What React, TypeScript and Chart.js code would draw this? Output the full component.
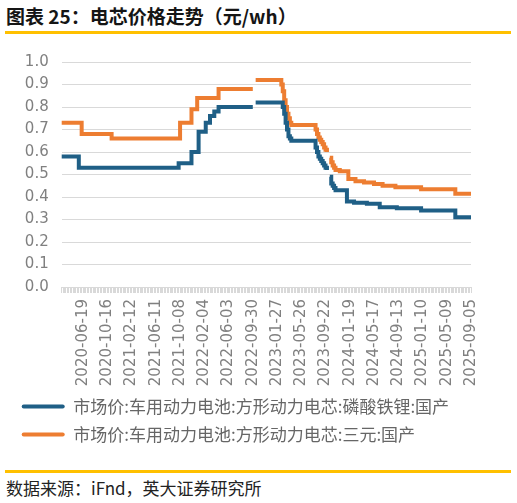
import React, { useEffect, useRef } from 'react';
import { Chart, registerables } from 'chart.js';

Chart.register(...registerables);

// ---- data ----
const START_DATE = '2020-03-06';
const WEEK_COUNT = 288;
const LABEL_FIRST = 15;
const LABEL_EVERY = 17;

function weeklyDates(start: string, n: number): string[] {
  const out: string[] = [];
  const base = new Date(start + 'T00:00:00Z').getTime();
  for (let i = 0; i < n; i++) {
    const d = new Date(base + i * 7 * 86400000);
    out.push(d.toISOString().slice(0, 10));
  }
  return out;
}
const categories = weeklyDates(START_DATE, WEEK_COUNT);

// [value, number of weeks]
const lfpRuns: [number | null, number][] = [
  [0.58, 12], [0.53, 70], [0.55, 9], [0.6, 5], [0.69, 5], [0.73, 3], [0.76, 3], [0.78, 3],
  [0.8, 25], [null, 1], [0.82, 19], [0.8, 1], [0.77, 1], [0.73, 1], [0.7, 1], [0.67, 1], [0.66, 1],
  [0.65, 17], [0.62, 1], [0.6, 1], [0.58, 1], [0.57, 1], [0.56, 1], [0.55, 1], [0.54, 1], [0.53, 1],
  [0.52, 1], [null, 1], [0.49, 1], [0.46, 1], [0.45, 1], [0.44, 1], [0.43, 8], [0.38, 5], [0.375, 9],
  [0.37, 9], [0.355, 12], [0.35, 17], [0.34, 24], [0.31, 12],
];
const ncmRuns: [number | null, number][] = [
  [0.73, 14], [0.68, 21], [0.66, 48], [0.73, 8], [0.79, 4], [0.84, 15], [0.88, 25], [null, 1],
  [0.92, 18], [0.9, 1], [0.87, 1], [0.83, 1], [0.8, 1], [0.77, 1], [0.75, 1], [0.73, 1], [0.72, 17],
  [0.7, 1], [0.68, 1], [0.665, 1], [0.655, 1], [0.645, 1], [0.635, 1], [0.62, 1], [0.61, 1], [0.6, 1],
  [null, 1], [0.575, 1], [0.555, 1], [0.54, 1], [0.53, 1], [0.52, 3], [0.515, 6], [0.48, 5], [0.47, 6],
  [0.465, 7], [0.458, 6], [0.45, 9], [0.443, 18], [0.435, 24], [0.415, 12],
];
const expand = (runs: [number | null, number][]) =>
  runs.flatMap(([v, c]) => Array(c).fill(v) as (number | null)[]);
const lfpValues = expand(lfpRuns);
const ncmValues = expand(ncmRuns);

const seriesNames = [
  '市场价:车用动力电池:方形动力电芯:磷酸铁锂:国产',
  '市场价:车用动力电池:方形动力电芯:三元:国产',
];
const Y_MIN = 0;
const Y_MAX = 1;
const Y_STEP = 0.1;

const BLUE = '#1f5f86';
const ORANGE = '#ed7d31';
const GOLD = '#ffc000';

export default function App() {
  const ref = useRef<HTMLCanvasElement | null>(null);

  useEffect(() => {
    if (!ref.current) return;
    const chart = new Chart(ref.current, {
      type: 'line',
      data: {
        labels: categories,
        datasets: [
          {
            label: seriesNames[0],
            data: lfpValues,
            borderColor: BLUE,
            backgroundColor: BLUE,
            borderWidth: 4,
            pointRadius: 0,
            stepped: true,
            spanGaps: false,
          },
          {
            label: seriesNames[1],
            data: ncmValues,
            borderColor: ORANGE,
            backgroundColor: ORANGE,
            borderWidth: 4,
            pointRadius: 0,
            stepped: true,
            spanGaps: false,
          },
        ],
      },
      options: {
        responsive: false,
        animation: false,
        layout: { padding: { left: 10.7, right: 46, top: 20, bottom: 0 } },
        plugins: {
          tooltip: { enabled: false },
          legend: {
            position: 'bottom',
            align: 'start',
            labels: {
              boxWidth: 43,
              boxHeight: 4,
              padding: 11,
              color: '#666666',
              font: { family: '"Noto Sans CJK SC", sans-serif', size: 17 },
              useBorderRadius: true,
              borderRadius: 2,
              generateLabels: (c: any) =>
                (Chart.defaults.plugins.legend.labels as any)
                  .generateLabels(c)
                  .map((l: any) => ({ ...l, lineWidth: 0 })),
            },
          },
        },
        scales: {
          x: {
            type: 'category',
            offset: false,
            grid: { drawOnChartArea: false, drawTicks: true, tickLength: 6, color: '#d9d9d9' },
            border: { display: true, color: '#d9d9d9' },
            ticks: {
              autoSkip: false,
              minRotation: 90,
              maxRotation: 90,
              padding: 6,
              color: '#808080',
              font: { family: '"DejaVu Sans", sans-serif', size: 15 },
              callback: (_v: any, i: number) =>
                i >= LABEL_FIRST && (i - LABEL_FIRST) % LABEL_EVERY === 0 ? categories[i] : '',
            },
            afterFit: (s: any) => {
              s.height = 100;
            },
          },
          y: {
            min: Y_MIN,
            max: Y_MAX,
            grid: { color: '#d9d9d9', drawTicks: false },
            border: { display: false },
            ticks: {
              stepSize: Y_STEP,
              padding: 13,
              color: '#808080',
              font: { family: '"DejaVu Sans", sans-serif', size: 15 },
              callback: (v: any) => Number(v).toFixed(1),
            },
            afterFit: (s: any) => {
              s.width = 51;
            },
          },
        },
      },
    } as any);
    return () => chart.destroy();
  }, []);

  return (
    <div
      style={{
        position: 'fixed',
        left: 0,
        top: 0,
        width: 517,
        height: 503,
        background: '#fff',
        overflow: 'hidden',
      }}
    >
      <div
        style={{
          position: 'absolute',
          left: 6,
          top: 4,
          fontFamily: '"Noto Sans CJK SC", sans-serif',
          fontWeight: 700,
          fontSize: 19,
          lineHeight: '24px',
          color: '#151515',
          whiteSpace: 'nowrap',
        }}
      >
        图表 25：电芯价格走势（元/wh）
      </div>
      <div style={{ position: 'absolute', left: 5, top: 31, width: 506, height: 3, background: GOLD }} />
      <canvas
        ref={ref}
        width={517}
        height={413}
        style={{ position: 'absolute', left: 0, top: 40, width: 517, height: 413 }}
      />
      <div style={{ position: 'absolute', left: 5, top: 470, width: 506, height: 3, background: GOLD }} />
      <div
        style={{
          position: 'absolute',
          left: 6,
          top: 478,
          fontFamily: '"Noto Sans CJK SC", sans-serif',
          fontSize: 17,
          lineHeight: '20px',
          color: '#222',
          whiteSpace: 'nowrap',
        }}
      >
        数据来源：iFnd，英大证券研究所
      </div>
    </div>
  );
}
